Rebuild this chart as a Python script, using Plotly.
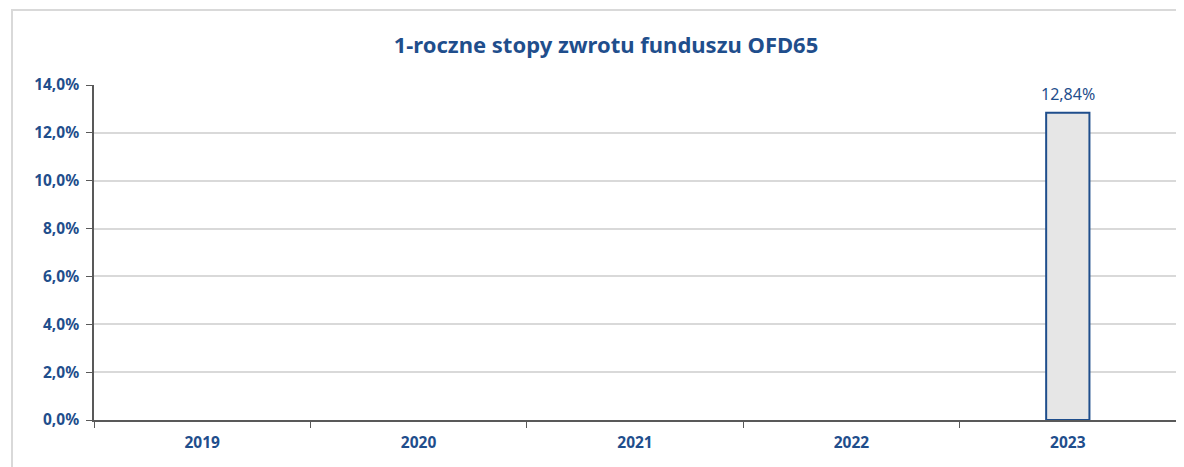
import plotly.graph_objects as go

years = ["2019", "2020", "2021", "2022", "2023"]
returns = [None, None, None, None, 0.1284]
y_ticks = [0, 0.02, 0.04, 0.06, 0.08, 0.10, 0.12, 0.14]

# page body has an 8px margin; work in target pixel coords minus that offset
O = 8
W, H = 1184 - O, 467 - O
L, R, T, B = 94 - O, 8, 85 - O, 47
pw, ph = W - L - R, H - T - B
blue = "#1F4E8C"
font = "Noto Sans"

fig = go.Figure(go.Bar(
    x=years, y=returns, width=0.2,
    marker=dict(color="#E6E6E6", line=dict(color=blue, width=2)),
    cliponaxis=False,
))

labels = [dict(x=i, y=v, text=f"{v * 100:.2f}%".replace(".", ","),
               showarrow=False, yanchor="bottom", yshift=6,
               font=dict(family=font, size=16, color=blue))
          for i, v in enumerate(returns) if v is not None]

def px_x(x):
    return (x - O - L) / pw

def px_y(y):
    return (H - B - (y - O)) / ph

fig.update_layout(
    width=W, height=H, margin=dict(l=L, r=R, t=T, b=B),
    paper_bgcolor="white", plot_bgcolor="white",
    separators=", ",
    showlegend=False,
    annotations=labels,
    title=dict(text="1-roczne stopy zwrotu funduszu OFD65",
               x=(606 - O) / W, xanchor="center", y=1 - (45 - O) / H, yanchor="middle",
               font=dict(family=font, size=22, color=blue, weight="bold")),
    shapes=[dict(type="rect", xref="paper", yref="paper",
                 x0=px_x(12), x1=px_x(1178),
                 y0=px_y(480), y1=px_y(10),
                 line=dict(color="#D9D9D9", width=2), layer="below")],
)
fig.update_yaxes(range=[0, 0.14], tickvals=y_ticks, tickformat=".1%",
                 showgrid=True, gridcolor="#D9D9D9", gridwidth=1.5,
                 showline=True, linecolor="#595959", linewidth=1.5,
                 ticks="outside", ticklen=6, tickcolor="#595959",
                 ticklabelstandoff=4,
                 tickfont=dict(family=font, size=15.5, color=blue, weight="bold"),
                 zeroline=False)
fig.update_xaxes(type="category", categoryorder="array", categoryarray=years,
                 range=[-0.5, len(years) - 0.5], tickson="boundaries",
                 showline=True, linecolor="#595959", linewidth=1.5,
                 ticks="outside", ticklen=6, tickcolor="#595959",
                 ticklabelstandoff=8, tickangle=0,
                 tickfont=dict(family=font, size=15.5, color=blue, weight="bold"))
fig.write_html("out.html")
